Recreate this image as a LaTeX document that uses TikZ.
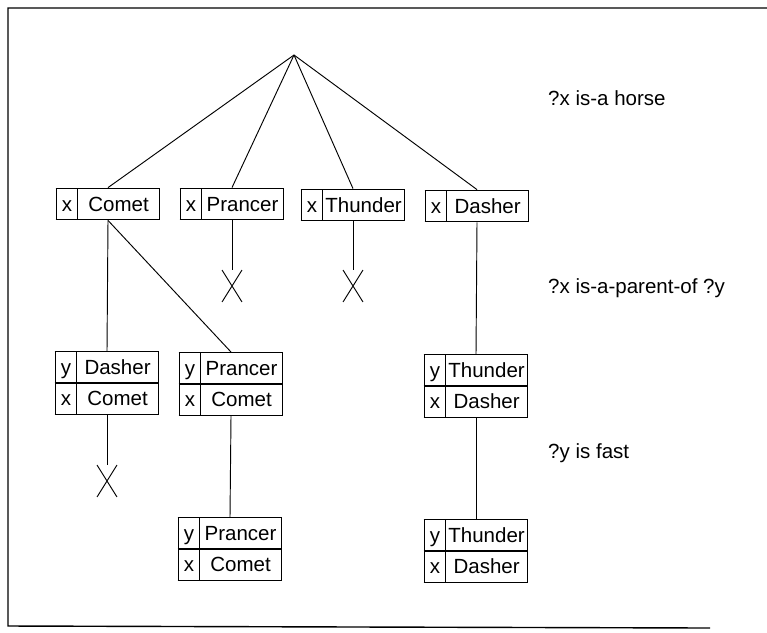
\documentclass[tikz,border=0pt]{standalone}
\usepackage{fontspec}
\setmainfont{Liberation Sans}
\usepackage{array}
\usepackage{tikz}
\usetikzlibrary{shapes.misc}

% one row of a binding table: variable | value
\newcommand{\slot}[2]{\rule[-0.23cm]{0pt}{0.9cm}#1 & #2\\\hline}
\newcommand{\bindfont}{\fontsize{17.5}{21}\selectfont}
\setlength{\arrayrulewidth}{1pt}

\begin{document}
\begin{tikzpicture}[
    x=0.03cm, y=-0.03cm,
    binding/.style={inner sep=0pt, font=\bindfont},
    fail/.style={cross out, draw, line width=0.8pt, inner sep=0pt, minimum width=0.57cm, minimum height=0.93cm},
    goal/.style={anchor=west, inner sep=0pt, font=\bindfont},
    link/.style={line width=0.8pt}
]
    \useasboundingbox (0,0) rectangle (767,632);

    % open frame
    \draw[line width=1.2pt] (767,8) -- (8,8) -- (8,626) -- (710,628);

    % root of the search tree
    \coordinate (top) at (294,55);

    % ?x is-a horse
    \node[binding] (comet) at (108,204) {\begin{tabular}{|@{}wc{0.6cm}@{}|@{}wc{2.43cm}@{}|}\hline \slot{x}{Comet}\end{tabular}};
    \node[binding] (prancer) at (232,204) {\begin{tabular}{|@{}wc{0.6cm}@{}|@{}wc{2.43cm}@{}|}\hline \slot{x}{Prancer}\end{tabular}};
    \node[binding] (thunder) at (353,205) {\begin{tabular}{|@{}wc{0.6cm}@{}|@{}wc{2.43cm}@{}|}\hline \slot{x}{Thunder}\end{tabular}};
    \node[binding] (dasher) at (477,206) {\begin{tabular}{|@{}wc{0.6cm}@{}|@{}wc{2.43cm}@{}|}\hline \slot{x}{Dasher}\end{tabular}};

    % ?x is-a-parent-of ?y
    \node[fail] (noPrancer) at (232,286) {};
    \node[fail] (noThunder) at (353,286) {};
    \node[binding] (cometDasher) at (107,383) {\begin{tabular}{|@{}wc{0.6cm}@{}|@{}wc{2.43cm}@{}|}\hline \slot{y}{Dasher}\slot{x}{Comet}\end{tabular}};
    \node[binding] (cometPrancer) at (231,384) {\begin{tabular}{|@{}wc{0.6cm}@{}|@{}wc{2.43cm}@{}|}\hline \slot{y}{Prancer}\slot{x}{Comet}\end{tabular}};
    \node[binding] (dasherThunder) at (476,386) {\begin{tabular}{|@{}wc{0.6cm}@{}|@{}wc{2.43cm}@{}|}\hline \slot{y}{Thunder}\slot{x}{Dasher}\end{tabular}};

    % ?y is fast
    \node[fail] (noDasher) at (107,481) {};
    \node[binding] (fastPrancer) at (230,549) {\begin{tabular}{|@{}wc{0.6cm}@{}|@{}wc{2.43cm}@{}|}\hline \slot{y}{Prancer}\slot{x}{Comet}\end{tabular}};
    \node[binding] (fastThunder) at (476,551) {\begin{tabular}{|@{}wc{0.6cm}@{}|@{}wc{2.43cm}@{}|}\hline \slot{y}{Thunder}\slot{x}{Dasher}\end{tabular}};

    % goals on the right
    \node[goal] (g1) at (548,98) {?x is-a horse};
    \node[goal] (g2) at (548,288) {?x is-a-parent-of ?y};
    \node[goal] (g3) at (548,453) {?y is fast};

    % branches
    \draw[link] (top) -- (comet.north);
    \draw[link] (top) -- (prancer.north);
    \draw[link] (top) -- (thunder.north);
    \draw[link] (top) -- (dasher.north);
    \draw[link] (prancer.south) -- (noPrancer.north);
    \draw[link] (thunder.south) -- (noThunder.north);
    \draw[link] (comet.south) -- (cometDasher.north);
    \draw[link] (comet.south) -- (cometPrancer.north);
    \draw[link] (dasher.south) -- (dasherThunder.north);
    \draw[link] (cometDasher.south) -- (noDasher.north);
    \draw[link] (cometPrancer.south) -- (fastPrancer.north);
    \draw[link] (dasherThunder.south) -- (fastThunder.north);
\end{tikzpicture}
\end{document}
